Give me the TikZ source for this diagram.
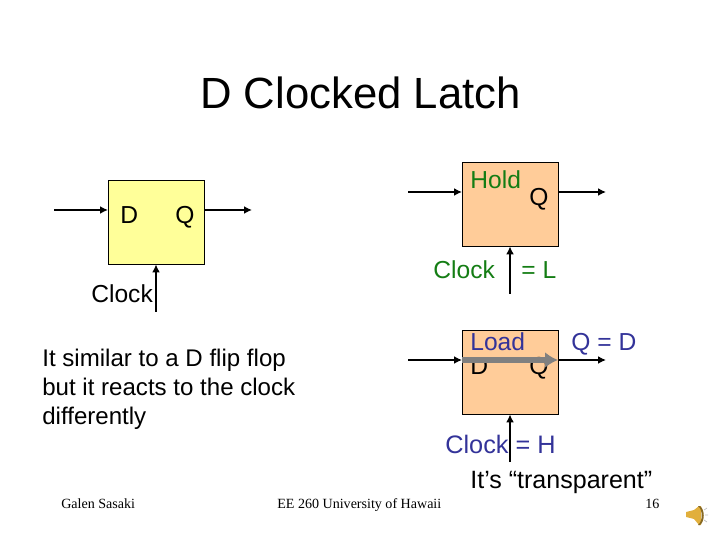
\documentclass[tikz,border=0pt]{standalone}
\usepackage{fontspec}
\setmainfont{Liberation Sans}
\newfontfamily\footfont{Liberation Serif}
\usetikzlibrary{arrows.meta}

\definecolor{latchyellow}{RGB}{255,255,153}
\definecolor{latchorange}{RGB}{255,204,153}
\definecolor{holdgreen}{RGB}{20,125,20}
\definecolor{loadblue}{RGB}{51,51,153}
\definecolor{flowgray}{RGB}{128,128,128}
\definecolor{hornsgold}{RGB}{225,175,60}

\tikzset{
	latchbox/.style={draw=black, line width=0.5pt, minimum width=1.92cm, minimum height=1.68cm, inner sep=0pt},
	wire/.style={-{Latex[length=1.6mm,width=1.6mm]}, line width=1pt},
	flow/.style={-{Latex[length=2.6mm,width=3.2mm]}, flowgray, line width=3.3pt},
	lbl/.style={anchor=base west, inner sep=0pt, font=\fontsize{14}{16}\selectfont},
	notelbl/.style={anchor=base west, inner sep=0pt, font=\fontsize{13.7}{16}\selectfont},
	foot/.style={anchor=base west, inner sep=0pt, font=\footfont\fontsize{8}{10}\selectfont},
}

\begin{document}
\begin{tikzpicture}[x=0.02cm, y=-0.02cm]
	\useasboundingbox (0,0) rectangle (720,540);
	\node[anchor=base, inner sep=0pt, font=\fontsize{24.85}{28}\selectfont] (title) at (360.5,109) {D Clocked Latch};

	% plain latch
	\node[latchbox, fill=latchyellow] (plain) at (156,222) {};
	\coordinate (plainD) at (54,210);
	\coordinate (plainDend) at (108,210);
	\coordinate (plainQ) at (204,210);
	\coordinate (plainQend) at (252,210);
	\coordinate (plainC) at (156,312);
	\draw[wire] (plainD) -- (plainDend);
	\draw[wire] (plainQ) -- (plainQend);
	\draw[wire] (plainC) -- (plain.south);
	\node[lbl] (plainDlbl) at (120,224) {D};
	\node[lbl] (plainQlbl) at (175,224) {Q};
	\node[lbl] (plainClbl) at (91,303) {Clock};

	\node[notelbl] (note1) at (42,366.5) {It similar to a D flip flop};
	\node[notelbl] (note2) at (42,395.5) {but it reacts to the clock};
	\node[notelbl] (note3) at (42,424) {differently};

	% hold case
	\node[latchbox, fill=latchorange] (hold) at (510,204) {};
	\coordinate (holdD) at (408,192);
	\coordinate (holdDend) at (462,192);
	\coordinate (holdQ) at (558,192);
	\coordinate (holdQend) at (606,192);
	\coordinate (holdC) at (510,294);
	\draw[wire] (holdD) -- (holdDend);
	\draw[wire] (holdQ) -- (holdQend);
	\draw[wire] (holdC) -- (hold.south);
	\node[lbl, holdgreen] (holdlbl) at (470,189) {Hold};
	\node[lbl] (holdQlbl) at (529,206) {Q};
	\node[lbl, holdgreen] (holdCk) at (433,279) {Clock};
	\node[lbl, holdgreen] (holdL) at (521,279) {= L};

	% load case
	\node[latchbox, fill=latchorange] (load) at (510,372) {};
	\coordinate (loadD) at (408,360);
	\coordinate (loadDend) at (462,360);
	\coordinate (loadQ) at (558,360);
	\coordinate (loadQend) at (606,360);
	\coordinate (loadC) at (510,462);
	\node[lbl, loadblue] (loadlbl) at (470,351) {Load};
	\node[lbl] (loadDlbl) at (470,375) {D};
	\node[lbl] (loadQlbl) at (529,375) {Q};
	\node[lbl, loadblue] (loadeq) at (571,351) {Q = D};
	\node[lbl, loadblue, font=\fontsize{14.4}{16}\selectfont] (loadCk) at (445,453) {Clock = H};
	\draw[wire] (loadD) -- (loadDend);
	\draw[wire] (loadQ) -- (loadQend);
	\draw[wire] (loadC) -- (load.south);
	\draw[flow] (loadDend) -- (loadQ);
	\node[lbl, font=\fontsize{14.25}{16}\selectfont] (transp) at (470,488) {It’s “transparent”};

	\node[foot] (author) at (61,508.5) {Galen Sasaki};
	\node[foot] (course) at (277,508.5) {EE 260 University of Hawaii};
	\node[foot] (page) at (645,508.5) {16};

	% speaker icon
	\fill[hornsgold] (686,512) -- (694,510) -- (699,506) -- (701,506) -- (701,525) -- (699,525) -- (694,519) -- (686,517) -- cycle;
	\fill[hornsgold!60!black] (698,506) .. controls (703,510) and (703,521) .. (698,525) -- (700,525) .. controls (705,521) and (705,510) .. (700,506) -- cycle;
	\draw[black!25, line width=0.4pt] (704,510) -- (707,508) (705,515) -- (708,515) (704,520) -- (707,522);
\end{tikzpicture}
\end{document}
